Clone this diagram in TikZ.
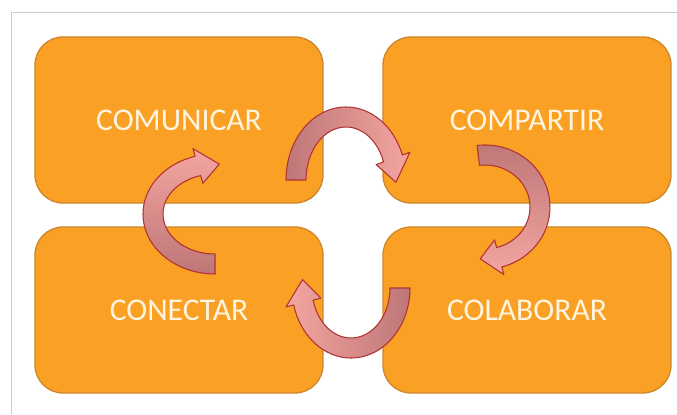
\documentclass[tikz,border=0pt]{standalone}
\usepackage{fontspec}
\setmainfont{Carlito}
\definecolor{cardfill}{RGB}{250,160,36}
\definecolor{cardedge}{RGB}{206,134,44}
\definecolor{cardtext}{RGB}{255,244,222}
\definecolor{arrowdark}{RGB}{190,118,120}
\definecolor{arrowlight}{RGB}{244,166,160}
\definecolor{arrowedge}{RGB}{176,50,50}
\definecolor{framegray}{RGB}{205,205,205}
\tikzset{
  card/.style={draw=cardedge, line width=1.1pt, fill=cardfill, rounded corners=0.84cm,
    minimum width=8.64cm, minimum height=4.98cm, text=cardtext,
    font=\fontsize{27}{30}\selectfont},
  cyclearrow/.style={draw=arrowedge, line width=0.9pt, line join=round}
}
\begin{document}
\begin{tikzpicture}[x=0.03cm, y=0.03cm]
      \useasboundingbox (0,0) rectangle (677,414);
      \fill[white] (0,0) rectangle (677,414);
      \draw[framegray, line width=0.6pt] (11,0) -- (11,402) -- (677,402);
      % the four steps
      \node[card] (comunicar) at (179,294) {COMUNICAR};
      \node[card] (compartir) at (527,294) {COMPARTIR};
      \node[card] (conectar) at (179,104) {CONECTAR};
      \node[card] (colaborar) at (527,104) {COLABORAR};
      % arrows of the cycle, tail dark, head light
      \path[cyclearrow, left color=arrowdark, right color=arrowlight, shift={(346,234)}]
        (180:60 and 73) arc[start angle=180, end angle=20, x radius=60, y radius=73]
        -- (20:68 and 81) -- (-2:50 and 63) -- (20:32 and 45) -- (20:40 and 53)
        arc[start angle=20, end angle=180, x radius=40, y radius=53] -- cycle;
      \path[cyclearrow, top color=arrowdark, bottom color=arrowlight, shift={(485,207)}]
        (97:65 and 62) arc[start angle=97, end angle=-75, x radius=65, y radius=62]
        -- (-75:73 and 70) -- (-95:55 and 52) -- (-75:37 and 34) -- (-75:45 and 42)
        arc[start angle=-75, end angle=97, x radius=45, y radius=42] -- cycle;
      \path[cyclearrow, right color=arrowdark, left color=arrowlight, shift={(351,126)}]
        (0:59 and 70) arc[start angle=0, end angle=-166, x radius=59, y radius=70]
        -- (-166:67 and 78) -- (-188:49 and 60) -- (-166:31 and 42) -- (-166:39 and 50)
        arc[start angle=-166, end angle=0, x radius=39, y radius=50] -- cycle;
      \path[cyclearrow, bottom color=arrowdark, top color=arrowlight, shift={(215,200)}]
        (270:72 and 60) arc[start angle=270, end angle=106, x radius=72, y radius=60]
        -- (106:80 and 68) -- (86:62 and 50) -- (106:44 and 32) -- (106:52 and 40)
        arc[start angle=106, end angle=270, x radius=52, y radius=40] -- cycle;
\end{tikzpicture}
\end{document}
